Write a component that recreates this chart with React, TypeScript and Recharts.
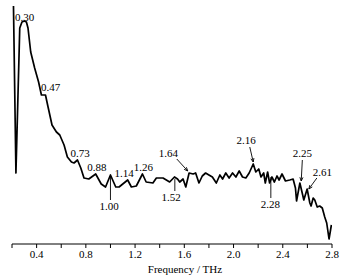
import React from 'react';
import { LineChart, Line, XAxis, YAxis, ReferenceDot, ReferenceLine } from 'recharts';

const FREQ = [
  0.212, 0.232, 0.263, 0.281, 0.3, 0.317, 0.33, 0.352, 0.384, 0.416, 0.439, 0.472, 0.493, 0.525,
  0.561, 0.588, 0.623, 0.65, 0.683, 0.704, 0.732, 0.759, 0.785, 0.824, 0.88, 0.925, 0.96, 1.0,
  1.043, 1.07, 1.14, 1.17, 1.21, 1.26, 1.29, 1.345, 1.373, 1.427, 1.481, 1.52, 1.545, 1.563,
  1.59, 1.612, 1.639, 1.672, 1.692, 1.719, 1.746, 1.773, 1.8, 1.828, 1.86, 1.889, 1.911, 1.937,
  1.964, 1.992, 2.019, 2.046, 2.073, 2.1, 2.127, 2.16, 2.181, 2.205, 2.223, 2.245, 2.258, 2.277,
  2.293, 2.312, 2.332, 2.353, 2.37, 2.394, 2.422, 2.457, 2.484, 2.503, 2.512, 2.539, 2.558, 2.571,
  2.598, 2.62, 2.63, 2.647, 2.66, 2.68, 2.7, 2.721, 2.741, 2.757, 2.776, 2.795,
];
const AMPLITUDE = [
  238, 71, 216, 222, 223, 222, 216, 192, 176, 162, 149, 149, 137, 119,
  112, 109, 99, 87, 82, 81, 84, 76, 66, 65, 70, 60, 57, 69,
  57, 57, 64, 57, 58, 70, 62, 61, 66, 66, 62, 67, 65, 62,
  65, 57, 71, 70, 71, 61, 68, 71, 69, 67, 61, 69, 65, 71,
  66, 71, 67, 73, 67, 66, 71, 80, 72, 75, 67, 71, 61, 72,
  61, 67, 62, 68, 64, 70, 63, 64, 65, 56, 43, 61, 51, 44,
  55, 41, 38, 46, 44, 37, 38, 36, 27, 21, 5, 19,
];

const TICKS = [0.2, 0.4, 0.6, 0.8, 1.0, 1.2, 1.4, 1.6, 1.8, 2.0, 2.2, 2.4, 2.6, 2.8];
const LABELED_TICKS = ['0.4', '0.8', '1.2', '1.6', '2.0', '2.4', '2.8'];

const NOTE_TEXT = ['0.30', '0.47', '0.73', '0.88', '1.00', '1.14', '1.26', '1.52', '1.64', '2.16', '2.28', '2.25', '2.61'];
const NOTE_X = [0.303, 0.513, 0.754, 0.889, 0.99, 1.112, 1.267, 1.493, 1.47, 2.102, 2.299, 2.559, 2.722];
const NOTE_Y = [223, 153.5, 87, 73.3, 34, 67.3, 73.3, 43.3, 87, 100, 36, 86.7, 68];

const ARROW_FROM_X = [1.0, 1.523, 1.539, 2.132, 2.303, 2.559, 2.677];
const ARROW_FROM_Y = [44, 53, 85, 97, 46, 84, 66];
const ARROW_TO_X = [1.0, 1.523, 1.628, 2.16, 2.303, 2.55, 2.612];
const ARROW_TO_Y = [67, 65, 73, 82, 67, 63, 55];
const ARROW_HEAD = [false, false, true, true, false, true, true];

const data = FREQ.map((f, i) => ({ f, v: AMPLITUDE[i] }));

const FONT = '"Liberation Serif", "Times New Roman", serif';

const NoteText = (props: any) => (
  <text x={props.cx} y={props.cy} textAnchor="middle" fontSize={11} fontFamily={FONT} fill="#000">
    {props.text}
  </text>
);

const ArrowShape = (props: any) => {
  const { x1, y1, x2, y2, head } = props;
  const ang = Math.atan2(y2 - y1, x2 - x1);
  const L = 4;
  const a1 = ang + Math.PI - 0.4;
  const a2 = ang + Math.PI + 0.4;
  return (
    <g>
      <line x1={x1} y1={y1} x2={x2} y2={y2} stroke="#000" strokeWidth={0.9} />
      {head && (
        <polyline
          points={`${x2 + L * Math.cos(a1)},${y2 + L * Math.sin(a1)} ${x2},${y2} ${x2 + L * Math.cos(a2)},${y2 + L * Math.sin(a2)}`}
          fill="none"
          stroke="#000"
          strokeWidth={0.9}
        />
      )}
    </g>
  );
};

const tickFmt = (v: number) => {
  const s = v.toFixed(1);
  return LABELED_TICKS.includes(s) ? s : '';
};

export default function App() {
  return (
    <div style={{ position: 'absolute', left: 0, top: 0, background: '#fff' }}>
      <LineChart
        width={355}
        height={279}
        data={data}
        margin={{ top: 5, right: 23, left: 12, bottom: 0 }}
        style={{ fontFamily: FONT }}
      >
        <XAxis
          dataKey="f"
          type="number"
          domain={[0.2, 2.8]}
          ticks={TICKS}
          interval={0}
          tickFormatter={tickFmt}
          height={35}
          tickSize={4}
          axisLine={{ stroke: '#000' }}
          tickLine={{ stroke: '#000' }}
          tick={{ fill: '#000', fontSize: 11, fontFamily: FONT }}
          allowDataOverflow
          label={{
            value: 'Frequency / THz',
            position: 'insideBottom',
            offset: 6,
            dx: 13,
            fill: '#000',
            fontSize: 11,
            fontFamily: FONT,
          }}
        />
        <YAxis
          type="number"
          domain={[0, 239]}
          width={0}
          tick={false}
          tickLine={false}
          axisLine={{ stroke: '#000' }}
          allowDataOverflow
        />
        <Line
          dataKey="v"
          type="linear"
          stroke="#000"
          strokeWidth={1.7}
          dot={false}
          isAnimationActive={false}
          strokeLinejoin="round"
        />
        {ARROW_FROM_X.map((x, i) => (
          <ReferenceLine
            key={'a' + i}
            segment={[
              { x, y: ARROW_FROM_Y[i] },
              { x: ARROW_TO_X[i], y: ARROW_TO_Y[i] },
            ]}
            ifOverflow="visible"
            shape={(p: any) => <ArrowShape {...p} head={ARROW_HEAD[i]} />}
          />
        ))}
        {NOTE_TEXT.map((t, i) => (
          <ReferenceDot
            key={'n' + i}
            x={NOTE_X[i]}
            y={NOTE_Y[i]}
            ifOverflow="visible"
            shape={(p: any) => <NoteText {...p} text={t} />}
          />
        ))}
      </LineChart>
    </div>
  );
}
